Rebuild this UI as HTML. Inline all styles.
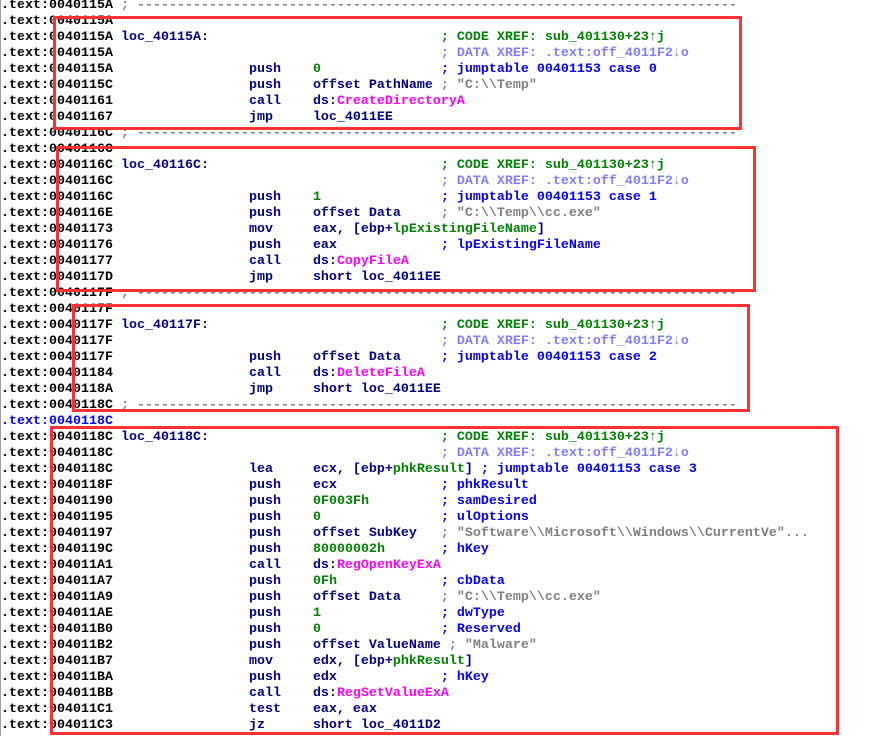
<!DOCTYPE html>
<html>
<head>
<meta charset="utf-8">
<style>
html,body{margin:0;padding:0;background:#fff;width:879px;height:736px;overflow:hidden}
pre{position:absolute;left:1px;top:-2px;margin:0;font:bold 13.333px/16px "Liberation Mono","DejaVu Sans Mono",monospace;color:#000080;letter-spacing:0}
i{font-style:normal}
.k{color:#000}.d{color:#808080}.g{color:#008000}.x{color:#8080ff}.c{color:#0000ff}.s{color:#808080}.p{color:#ff00ff}
.r{position:absolute;box-sizing:border-box;border:3px solid #ff3333}
.l{position:absolute;left:0;top:0;width:1px;height:736px;background:#a0a0a0}
</style>
</head>
<body>
<div class="l"></div>
<pre><i class="k">.text:0040115A</i> <i class="d">; ---------------------------------------------------------------------------</i>
<i class="k">.text:0040115A</i>
<i class="k">.text:0040115A</i> loc_40115A:                             <i class="g">; CODE XREF: sub_401130+23↑j</i>
<i class="k">.text:0040115A</i>                                         <i class="x">; DATA XREF: .text:off_4011F2↓o</i>
<i class="k">.text:0040115A</i>                 push    <i class="g">0</i>               <i class="c">; jumptable 00401153 case 0</i>
<i class="k">.text:0040115C</i>                 push    offset PathName <i class="s">; "C:\\Temp"</i>
<i class="k">.text:00401161</i>                 call    ds:<i class="p">CreateDirectoryA</i>
<i class="k">.text:00401167</i>                 jmp     loc_4011EE
<i class="k">.text:0040116C</i> <i class="d">; ---------------------------------------------------------------------------</i>
<i class="k">.text:0040116C</i>
<i class="k">.text:0040116C</i> loc_40116C:                             <i class="g">; CODE XREF: sub_401130+23↑j</i>
<i class="k">.text:0040116C</i>                                         <i class="x">; DATA XREF: .text:off_4011F2↓o</i>
<i class="k">.text:0040116C</i>                 push    <i class="g">1</i>               <i class="c">; jumptable 00401153 case 1</i>
<i class="k">.text:0040116E</i>                 push    offset Data     <i class="s">; "C:\\Temp\\cc.exe"</i>
<i class="k">.text:00401173</i>                 mov     eax, [ebp+<i class="g">lpExistingFileName</i>]
<i class="k">.text:00401176</i>                 push    eax             <i class="c">; lpExistingFileName</i>
<i class="k">.text:00401177</i>                 call    ds:<i class="p">CopyFileA</i>
<i class="k">.text:0040117D</i>                 jmp     short loc_4011EE
<i class="k">.text:0040117F</i> <i class="d">; ---------------------------------------------------------------------------</i>
<i class="k">.text:0040117F</i>
<i class="k">.text:0040117F</i> loc_40117F:                             <i class="g">; CODE XREF: sub_401130+23↑j</i>
<i class="k">.text:0040117F</i>                                         <i class="x">; DATA XREF: .text:off_4011F2↓o</i>
<i class="k">.text:0040117F</i>                 push    offset Data     <i class="c">; jumptable 00401153 case 2</i>
<i class="k">.text:00401184</i>                 call    ds:<i class="p">DeleteFileA</i>
<i class="k">.text:0040118A</i>                 jmp     short loc_4011EE
<i class="k">.text:0040118C</i> <i class="d">; ---------------------------------------------------------------------------</i>
<i class="c">.text:0040118C</i>
<i class="k">.text:0040118C</i> loc_40118C:                             <i class="g">; CODE XREF: sub_401130+23↑j</i>
<i class="k">.text:0040118C</i>                                         <i class="x">; DATA XREF: .text:off_4011F2↓o</i>
<i class="k">.text:0040118C</i>                 lea     ecx, [ebp+<i class="g">phkResult</i>] <i class="c">; jumptable 00401153 case 3</i>
<i class="k">.text:0040118F</i>                 push    ecx             <i class="c">; phkResult</i>
<i class="k">.text:00401190</i>                 push    <i class="g">0F003Fh</i>         <i class="c">; samDesired</i>
<i class="k">.text:00401195</i>                 push    <i class="g">0</i>               <i class="c">; ulOptions</i>
<i class="k">.text:00401197</i>                 push    offset SubKey   <i class="s">; "Software\\Microsoft\\Windows\\CurrentVe"...</i>
<i class="k">.text:0040119C</i>                 push    <i class="g">80000002h</i>       <i class="c">; hKey</i>
<i class="k">.text:004011A1</i>                 call    ds:<i class="p">RegOpenKeyExA</i>
<i class="k">.text:004011A7</i>                 push    <i class="g">0Fh</i>             <i class="c">; cbData</i>
<i class="k">.text:004011A9</i>                 push    offset Data     <i class="s">; "C:\\Temp\\cc.exe"</i>
<i class="k">.text:004011AE</i>                 push    <i class="g">1</i>               <i class="c">; dwType</i>
<i class="k">.text:004011B0</i>                 push    <i class="g">0</i>               <i class="c">; Reserved</i>
<i class="k">.text:004011B2</i>                 push    offset ValueName <i class="s">; "Malware"</i>
<i class="k">.text:004011B7</i>                 mov     edx, [ebp+<i class="g">phkResult</i>]
<i class="k">.text:004011BA</i>                 push    edx             <i class="c">; hKey</i>
<i class="k">.text:004011BB</i>                 call    ds:<i class="p">RegSetValueExA</i>
<i class="k">.text:004011C1</i>                 test    eax, eax
<i class="k">.text:004011C3</i>                 jz      short loc_4011D2</pre>
<div class="r" style="left:53px;top:16px;width:689px;height:114px"></div>
<div class="r" style="left:56px;top:146px;width:700px;height:146px"></div>
<div class="r" style="left:72px;top:304px;width:678px;height:108px"></div>
<div class="r" style="left:50px;top:426px;width:789px;height:309px"></div>
</body>
</html>
